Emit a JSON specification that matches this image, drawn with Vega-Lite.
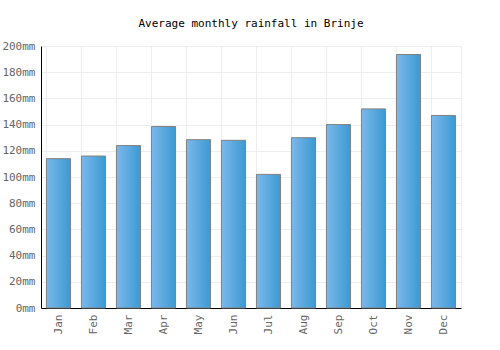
{
  "$schema": "https://vega.github.io/schema/vega-lite/v6.json",
  "autosize": "none",
  "width": 420,
  "height": 262,
  "padding": {"left": 41, "top": 46, "right": 39, "bottom": 42},
  "background": "white",
  "title": {
    "text": "Average monthly rainfall in Brinje",
    "font": "DejaVu Sans Mono",
    "fontSize": 11,
    "fontWeight": "normal",
    "color": "#000000",
    "anchor": "middle",
    "offset": 11
  },
  "data": {
    "values": [
      {"month": "Jan", "rain": 114},
      {"month": "Feb", "rain": 116},
      {"month": "Mar", "rain": 124},
      {"month": "Apr", "rain": 138.5},
      {"month": "May", "rain": 128.5},
      {"month": "Jun", "rain": 128},
      {"month": "Jul", "rain": 102},
      {"month": "Aug", "rain": 130},
      {"month": "Sep", "rain": 140},
      {"month": "Oct", "rain": 152},
      {"month": "Nov", "rain": 193.5},
      {"month": "Dec", "rain": 147}
    ]
  },
  "mark": {
    "type": "bar",
    "stroke": "#808080",
    "strokeWidth": 1,
    "color": {
      "gradient": "linear",
      "x1": 0, "x2": 1, "y1": 0, "y2": 0,
      "stops": [
        {"offset": 0, "color": "#7cb8eb"},
        {"offset": 1, "color": "#3a9ad2"}
      ]
    }
  },
  "encoding": {
    "x": {
      "field": "month",
      "type": "nominal",
      "sort": null,
      "scale": {"paddingInner": 0.31, "paddingOuter": 0.155},
      "axis": {
        "title": null,
        "labelAngle": -90,
        "labelFont": "DejaVu Sans Mono",
        "labelFontSize": 11,
        "labelColor": "#666666",
        "labelPadding": 6,
        "ticks": false,
        "domainColor": "#000000",
        "domainWidth": 1,
        "grid": true,
        "gridColor": "#eeeeee",
        "bandPosition": 0
      }
    },
    "y": {
      "field": "rain",
      "type": "quantitative",
      "scale": {"domain": [0, 200], "nice": false},
      "axis": {
        "title": null,
        "values": [0, 20, 40, 60, 80, 100, 120, 140, 160, 180, 200],
        "labelExpr": "datum.value + 'mm'",
        "labelFont": "DejaVu Sans Mono",
        "labelFontSize": 11,
        "labelColor": "#666666",
        "labelPadding": 6,
        "ticks": false,
        "domainColor": "#000000",
        "domainWidth": 1,
        "grid": true,
        "gridColor": "#eeeeee"
      }
    }
  },
  "config": {
    "view": {"stroke": "#eeeeee"}
  }
}
